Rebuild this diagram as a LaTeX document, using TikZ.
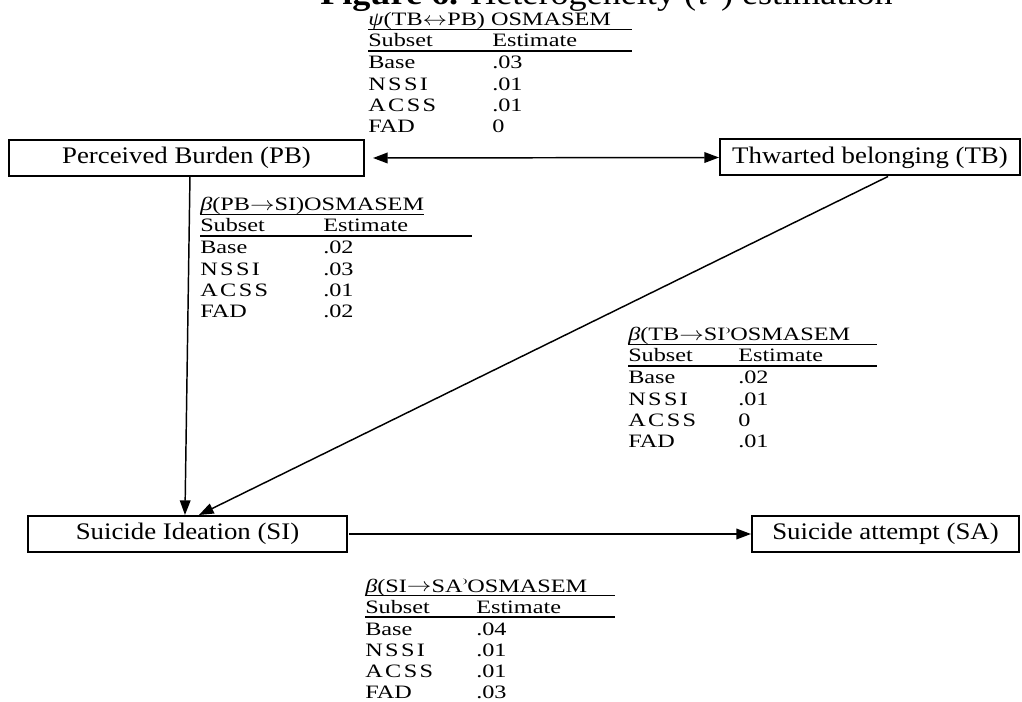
\documentclass[tikz,border=0pt]{standalone}
\usepackage{fontspec}
\setmainfont{Liberation Serif}
\usetikzlibrary{arrows.meta}
\newcommand{\sx}[1]{\scalebox{1.13}[1]{#1}}
\newcommand{\tx}[1]{\scalebox{1.28}[1]{#1}}
\newcommand{\wide}[1]{{\addfontfeatures{LetterSpace=10}#1}}
\newcommand{\halfparen}{\raisebox{0.45em}{\scalebox{0.6}[0.35]{)}}}
\newcommand{\ra}{\raisebox{0.05em}{$\rightarrow$}}
\newcommand{\lra}{\raisebox{0.05em}{$\leftrightarrow$}}
% #1 name, #2 left x, #3 header centre y, #4 column offset, #5 rule length, #6 rows
\newcommand{\esttable}[6]{%
  \draw[thickrule] (#2,#3+31) -- (#2+#5,#3+31);
  \node[tabtxt] (#1s) at (#2,#3+27) {\tx{Subset}};
  \node[tabtxt] (#1e) at (#2+#4,#3+27) {\tx{Estimate}};
  \foreach \lab/\val [count=\i] in {#6} {
    \node[tabtxt] (#1r\i) at (#2,#3+27.7+21.3*\i) {\tx{\lab}};
    \node[tabtxt] (#1v\i) at (#2+#4,#3+27.7+21.3*\i) {\tx{\val}};
  }%
}
\begin{document}
\begin{tikzpicture}[x=0.75pt,y=-0.75pt,
  var/.style={draw, line width=1.5pt, inner sep=0pt, minimum height=27pt,
    font=\fontsize{17.8}{20}\selectfont},
  tabtxt/.style={anchor=base west, inner sep=0pt, font=\fontsize{14.2}{16}\selectfont},
  thinrule/.style={line width=0.8pt},
  thickrule/.style={line width=1.5pt},
  conn/.style={line width=1.1pt},
  tip/.style={-{Triangle[length=11pt,width=8pt]}},
  dtip/.style={{Triangle[length=11pt,width=8pt]}-{Triangle[length=11pt,width=8pt]}}]
\useasboundingbox (0,0) rectangle (1022,702);
\clip (0,0) rectangle (1022,702);
\fill[white] (0,0) rectangle (1022,702);

% title (cut at the top)
\node[anchor=base west, inner sep=0pt, font=\fontsize{24}{28}\selectfont] (title) at (320,5)
  {\sx{\textbf{Figure 6.} Heterogeneity (\textit{τ}²) estimation}};

% variables
\node[var, minimum width=266.25pt] (PB) at (186.5,158) {\sx{Perceived Burden (PB)}};
\node[var, minimum width=225pt] (TB) at (870,157.5) {\sx{Thwarted belonging (TB)}};
\node[var, minimum width=239.25pt] (SI) at (187.5,534) {\sx{Suicide Ideation (SI)}};
\node[var, minimum width=200.25pt] (SA) at (885.5,534) {\sx{Suicide attempt (SA)}};

% connectors
\draw[conn, dtip] ([xshift=6pt]PB.east) -- (TB.west);
\draw[conn, tip] ([xshift=2.6pt]PB.south) -- ([xshift=-1.9pt]SI.north);
\draw[conn, tip] ([xshift=13.5pt]TB.south) -- ([xshift=8.6pt]SI.north);
\draw[conn, tip] ([xshift=1pt]SI.east) -- (SA.west);

% table 1
\node[tabtxt] (t1h) at (368,26) {\tx{\textit{ψ}(TB\lra PB) OSMASEM}};
\draw[thinrule] (368,29.5) -- (632,29.5);
\esttable{t1}{368}{20}{124}{264}{Base/.03,\wide{NSSI}/.01,\wide{ACSS}/.01,FAD/0}

% table 2
\node[tabtxt] (t2h) at (200,211) {\tx{\textit{β}(PB\ra SI)OSMASEM}};
\draw[thinrule] (200,214.5) -- (t2h.east |- 0,214.5);
\esttable{t2}{200}{205}{123}{272}{Base/.02,\wide{NSSI}/.03,\wide{ACSS}/.01,FAD/.02}

% table 3
\node[tabtxt] (t3h) at (628,341) {\tx{\textit{β}(TB\ra SI\halfparen OSMASEM}};
\draw[thinrule] (628,344.5) -- (877,344.5);
\esttable{t3}{628}{335}{110}{249}{Base/.02,\wide{NSSI}/.01,\wide{ACSS}/0,FAD/.01}

% table 4
\node[tabtxt] (t4h) at (365,592) {\tx{\textit{β}(SI\ra SA\halfparen OSMASEM}};
\draw[thinrule] (365,595.5) -- (615,595.5);
\esttable{t4}{365}{586}{111}{250}{Base/.04,\wide{NSSI}/.01,\wide{ACSS}/.01,FAD/.03}
\end{tikzpicture}
\end{document}
